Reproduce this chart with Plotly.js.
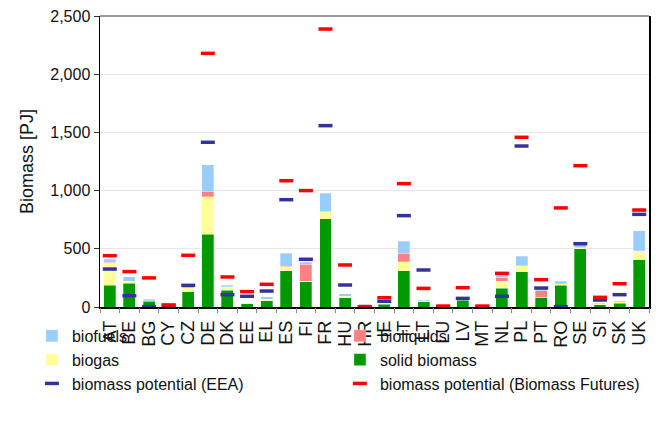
<!DOCTYPE html>
<html>
<head>
<meta charset="utf-8">
<script src="https://cdn.plot.ly/plotly-3.0.1.min.js"></script>
<style>
  html, body { margin: 0; padding: 0; background: #ffffff; }
  #chart { width: 667px; height: 422px; }
</style>
</head>
<body>
<div id="chart"></div>
<script>
// Member states
const countries = ["AT","BE","BG","CY","CZ","DE","DK","EE","EL","ES","FI","FR","HU","HR",
                   "IE","IT","LT","LU","LV","MT","NL","PL","PT","RO","SE","SI","SK","UK"];

// Bioenergy use by type [PJ]
const solidBiomass = [189,206,48,0,129,624,146,32,54,310,218,759,80,18,
                      23,310,46,3,60,0,163,301,82,186,501,20,32,407];
const biogas       = [190,15,6,1,37,324,30,1,12,35,3,60,12,3,
                      8,78,5,2,5,1,57,54,2,12,6,8,14,76];
const bioliquids   = [5,2,0,0,0,46,0,0,0,5,146,5,0,0,
                      0,68,0,0,0,0,31,0,56,0,5,0,0,2];
const biofuels     = [25,37,14,1,15,229,12,2,23,110,17,155,20,2,
                      6,109,6,2,12,1,26,83,35,22,35,6,8,171];

// Biomass potentials [PJ]
const potentialEEA = [326,97,3,14,186,1415,106,92,137,922,410,1558,189,2,
                      49,785,318,2,74,2,92,1383,163,3,544,60,106,796];
const potentialBF  = [441,304,250,17,444,2179,258,132,195,1085,1000,2388,361,3,
                      80,1060,160,8,166,8,289,1458,235,851,1214,83,200,833];

const FONT = "Liberation Sans, Arial, sans-serif";

function barTrace(name, values, color, rank) {
  return {
    type: "bar", name: name, x: countries, y: values,
    marker: { color: color, line: { color: "rgba(255,255,255,0.6)", width: 0.5 } },
    legendrank: rank, hoverinfo: "x+y+name"
  };
}
function dashTrace(name, values, color, rank) {
  return {
    type: "scatter", mode: "markers", name: name, x: countries, y: values,
    marker: { symbol: "line-ew", size: 10, line: { color: color, width: 3.5 } },
    legendrank: rank, cliponaxis: false
  };
}

const data = [
  barTrace("solid biomass", solidBiomass, "#009900", 4),
  barTrace("biogas", biogas, "#ffff99", 3),
  barTrace("bioliquids", bioliquids, "#ff8080", 2),
  barTrace("biofuels", biofuels, "#99ccff", 1),
  dashTrace("biomass potential (EEA)", potentialEEA, "#333399", 5),
  dashTrace("biomass potential (Biomass Futures)", potentialBF, "#ff0000", 6),
  // carries the category-boundary tick axis
  { type: "scatter", x: [0], y: [0], xaxis: "x2", yaxis: "y", mode: "markers",
    marker: { opacity: 0 }, showlegend: false, hoverinfo: "skip" }
];

const layout = {
  width: 667, height: 422,
  margin: { l: 100, r: 18, t: 16, b: 115 },
  paper_bgcolor: "#ffffff", plot_bgcolor: "#ffffff",
  barmode: "stack", bargap: 0.39,
  font: { family: FONT, size: 15, color: "#111111" },
  xaxis: {
    type: "category", range: [-0.5, countries.length - 0.5],
    tickmode: "linear", dtick: 1, tickangle: -90, ticks: "", ticklabelstandoff: 5,
    tickfont: { size: 18, family: FONT, color: "#111111" },
    showline: true, linecolor: "#000000", linewidth: 1.5, showgrid: false
  },
  xaxis2: {
    overlaying: "x", side: "bottom", type: "linear",
    range: [-0.5, countries.length - 0.5], tickmode: "linear", tick0: -0.5, dtick: 1,
    ticks: "outside", ticklen: 5, tickcolor: "#888888",
    showticklabels: false, showgrid: false, showline: false, zeroline: false
  },
  yaxis: {
    range: [0, 2500], dtick: 500, tickformat: ",",
    ticks: "outside", ticklen: 5, tickcolor: "#333333",
    showline: true, linecolor: "#000000", linewidth: 1.5, mirror: true,
    gridcolor: "#e6e6e6", gridwidth: 1, zeroline: false,
    tickfont: { size: 16, family: FONT },
    title: { text: "Biomass [PJ]", font: { size: 18, family: FONT }, standoff: 12 }
  },
  shapes: [
    { type: "line", xref: "paper", yref: "paper", x0: 0, x1: 1, y0: 1, y1: 1,
      line: { color: "#777777", width: 1.5 } }
  ],
  legend: {
    orientation: "h", xref: "paper", yref: "paper",
    x: -0.124, y: -0.041, xanchor: "left", yanchor: "top",
    entrywidth: 263, entrywidthmode: "pixels",
    traceorder: "normal",
    font: { size: 16, family: FONT, color: "#111111" },
    bgcolor: "rgba(0,0,0,0)"
  },
  showlegend: true
};

// Fold each x tick label's "translate(..) rotate(..)" into one rotate about the
// shifted pivot, moving the text anchor by the same offset.
function foldTickTransforms(gd) {
  const re = /translate\(\s*([-\d.eE]+)(?:[\s,]+([-\d.eE]+))?\s*\)\s*rotate\(\s*([-\d.eE]+)[\s,]+([-\d.eE]+)[\s,]+([-\d.eE]+)\s*\)/;
  gd.querySelectorAll(".xtick text").forEach(function (t) {
    const m = (t.getAttribute("transform") || "").match(re);
    if (!m) return;
    const tx = +m[1], ty = +(m[2] || 0), a = +m[3], cx = +m[4], cy = +m[5];
    const x = parseFloat(t.getAttribute("x") || 0);
    const y = parseFloat(t.getAttribute("y") || 0);
    t.setAttribute("x", x + tx);
    t.setAttribute("y", y + ty);
    t.setAttribute("transform", "rotate(" + a + "," + (cx + tx) + "," + (cy + ty) + ")");
  });
}

Plotly.newPlot("chart", data, layout, { displayModeBar: false, staticPlot: true })
  .then(foldTickTransforms);
</script>
</body>
</html>
